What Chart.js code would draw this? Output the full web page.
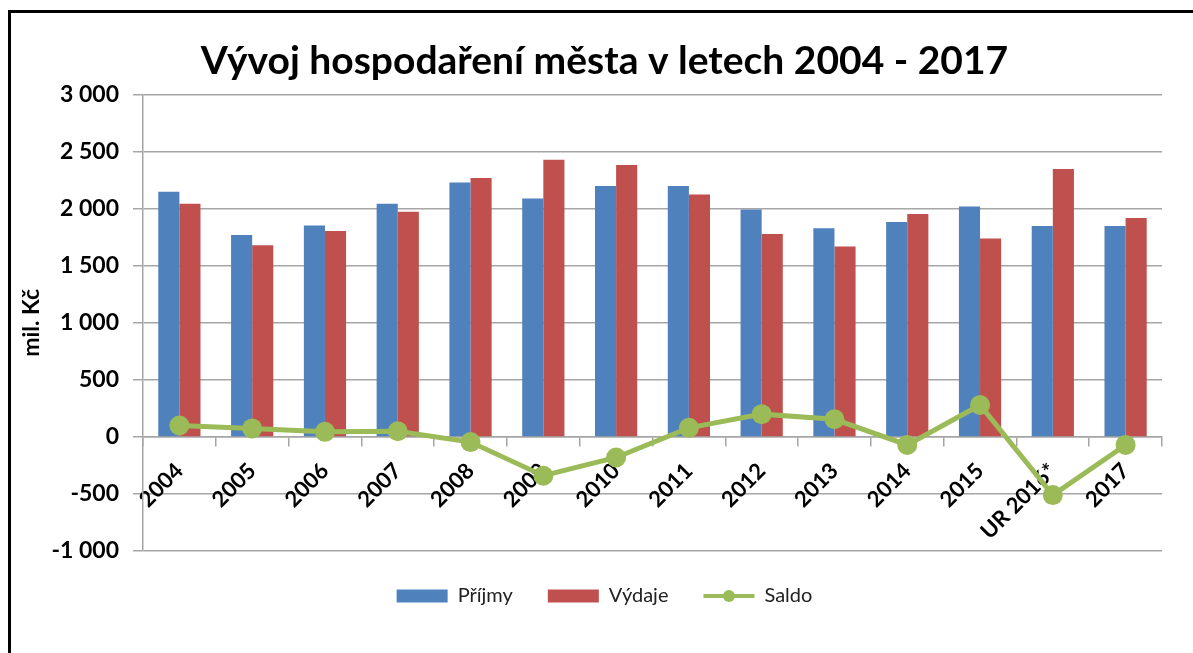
<!DOCTYPE html>
<html>
<head>
<meta charset="utf-8">
<script src="https://cdn.jsdelivr.net/npm/chart.js@4/dist/chart.umd.min.js"></script>
<style>
  body { margin: 0; background: #fff; overflow: hidden; }
  .frame { position: absolute; left: 8px; top: 10px; width: 1250px; height: 720px; border: 3px solid #000; }
  canvas { position: absolute; left: 0; top: 0; }
</style>
</head>
<body>
<div class="frame"></div>
<canvas id="chart" width="1193" height="653"></canvas>
<script>
const categories = ["2004", "2005", "2006", "2007", "2008", "2009", "2010", "2011", "2012", "2013", "2014", "2015", "UR 2016*", "2017"];
const prijmy = [2150, 1770, 1855, 2045, 2230, 2090, 2200, 2200, 1995, 1830, 1885, 2020, 1850, 1850];
const vydaje = [2045, 1680, 1805, 1975, 2270, 2430, 2385, 2125, 1780, 1670, 1955, 1740, 2350, 1920];
const saldo = [100, 75, 45, 50, -45, -340, -180, 80, 200, 155, -70, 280, -510, -70];

const FONT = "Lato, 'Open Sans', sans-serif";
const GRID = "#a6a6a6";
const GREEN = "#9bbb59";

// line + dot symbol for the Saldo legend entry
const saldoLegend = {
  id: "saldoLegend",
  afterDraw(chart) {
    const legend = chart.legend;
    if (!legend || !legend.legendHitBoxes) return;
    const box = legend.legendHitBoxes[2];
    if (!box) return;
    const ctx = chart.ctx;
    const bw = legend.options.labels.boxWidth;
    const cy = box.top + box.height / 2;
    ctx.save();
    ctx.strokeStyle = GREEN;
    ctx.lineWidth = 4;
    ctx.beginPath();
    ctx.moveTo(box.left, cy);
    ctx.lineTo(box.left + bw, cy);
    ctx.stroke();
    ctx.fillStyle = GREEN;
    ctx.beginPath();
    ctx.arc(box.left + bw / 2, cy, 6, 0, Math.PI * 2);
    ctx.fill();
    ctx.restore();
  },
};

try {
  const ctx = document.getElementById("chart");

  const data = {
    labels: categories,
    datasets: [
      {
        label: "Příjmy",
        type: "bar",
        data: prijmy,
        backgroundColor: "#4f81bd",
        borderWidth: 0,
        order: 1,
      },
      {
        label: "Výdaje",
        type: "bar",
        data: vydaje,
        backgroundColor: "#c0504d",
        borderWidth: 0,
        order: 1,
      },
      {
        label: "Saldo",
        type: "line",
        data: saldo,
        borderColor: GREEN,
        backgroundColor: GREEN,
        borderWidth: 5,
        pointRadius: 10,
        pointHoverRadius: 10,
        pointBackgroundColor: GREEN,
        pointBorderWidth: 0,
        tension: 0,
        fill: false,
        order: 0,
      },
    ],
  };

  const options = {
    responsive: false,
    animation: false,
    categoryPercentage: 0.58,
    barPercentage: 1,
    layout: {
      padding: { left: 16, right: 0, top: 18, bottom: 37 },
    },
    plugins: {
      title: {
        display: true,
        text: "Vývoj hospodaření města v letech 2004 - 2017",
        color: "#000",
        font: { family: FONT, size: 39, weight: "bold" },
        padding: { top: 20, bottom: 10 },
      },
      legend: {
        position: "bottom",
        labels: {
          boxWidth: 51,
          boxHeight: 13,
          padding: 35,
          color: "#222",
          font: { family: FONT, size: 20 },
          sort: (a, b) => a.datasetIndex - b.datasetIndex,
          generateLabels: (chart) => {
            const items = Chart.defaults.plugins.legend.labels.generateLabels(chart);
            items.forEach((it) => {
              it.lineWidth = 0;
              if (it.datasetIndex === 2) {
                it.fillStyle = "rgba(0,0,0,0)";
                it.strokeStyle = "rgba(0,0,0,0)";
              }
            });
            return items;
          },
        },
      },
      tooltip: { enabled: false },
    },
    scales: {
      x: {
        type: "category",
        position: { y: 0 },
        grid: {
          offset: true,
          drawOnChartArea: false,
          color: GRID,
          lineWidth: 1.5,
          tickLength: 9,
        },
        border: { color: GRID, width: 1.5 },
        ticks: {
          autoSkip: false,
          minRotation: 45,
          maxRotation: 45,
          padding: 12,
          color: "#000",
          font: { family: FONT, size: 22, weight: "bold" },
        },
      },
      y: {
        min: -1000,
        max: 3000,
        afterFit: (scale) => {
          scale.width = 127;
        },
        grid: {
          color: GRID,
          lineWidth: 1.5,
          tickLength: 10,
        },
        border: { color: GRID, width: 1.5 },
        ticks: {
          stepSize: 500,
          padding: 14,
          color: "#000",
          font: { family: FONT, size: 23, weight: "bold" },
          callback: (value) => {
            const s = Math.abs(value).toString().replace(/\B(?=(\d{3})+(?!\d))/g, " ");
            return (value < 0 ? "-" : "") + s;
          },
        },
        title: {
          display: true,
          text: "mil. Kč",
          color: "#000",
          font: { family: FONT, size: 23, weight: "bold" },
          padding: { top: 2, bottom: 0 },
        },
      },
      y2: {
        position: "right",
        min: -1000,
        max: 3000,
        afterFit: (scale) => {
          scale.width = 31;
        },
        grid: { drawOnChartArea: false, drawTicks: false },
        border: { display: false },
        ticks: { display: false },
      },
    },
  };

  new Chart(ctx, {
    type: "bar",
    data: data,
    options: options,
    plugins: [saldoLegend],
  });
} catch (e) {
  console.error("Chart initialization error:", e);
}
</script>
</body>
</html>
